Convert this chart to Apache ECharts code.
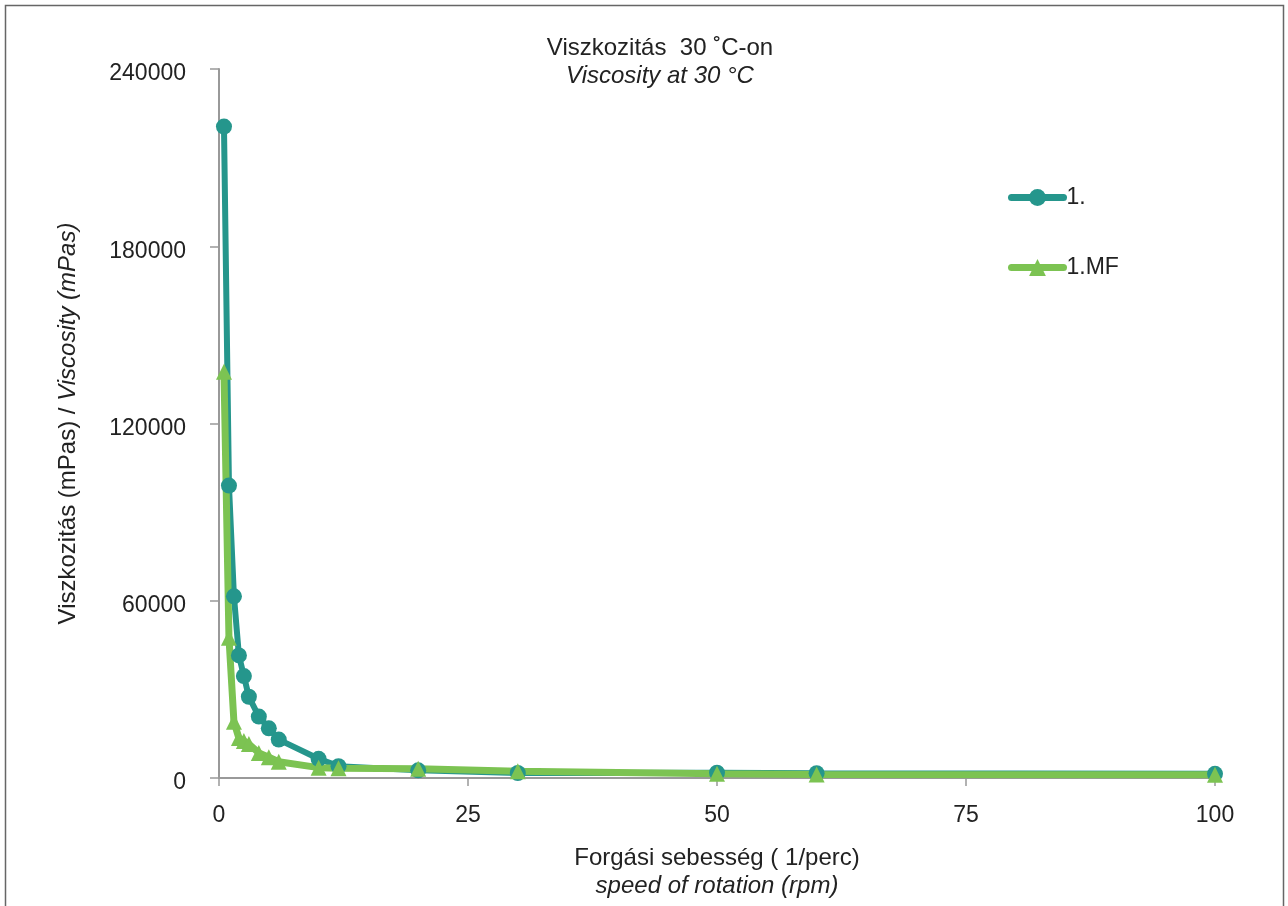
<!DOCTYPE html>
<html><head><meta charset="utf-8">
<script src="https://cdn.jsdelivr.net/npm/echarts@6/dist/echarts.min.js"></script>
<style>html,body{margin:0;padding:0;background:#fff}#c{width:1288px;height:906px}</style>
</head><body><div id="c"></div>
<script>
const speeds = [0.5, 1, 1.5, 2, 2.5, 3, 4, 5, 6, 10, 12, 20, 30, 50, 60, 100];
const series1 = [220500, 99000, 61500, 41500, 34500, 27500, 20800, 16800, 13000, 6500, 4000, 2600, 1700, 1800, 1600, 1400];
const series1MF = [137500, 47500, 19000, 13500, 12500, 11500, 8500, 7000, 5500, 3500, 3300, 3100, 2300, 1400, 1200, 1100];
const xTicks = [0, 25, 50, 75, 100];
const yTicks = [0, 60000, 120000, 180000, 240000];
const names = ['1.', '1.MF'];

const font = 'Liberation Sans, Arial, sans-serif';
const FS = 24, FL = 23;
const TEAL = '#25968C', GREEN = '#7CC352';
const legendCommon = {
  orient: 'vertical', left: 1008, itemWidth: 52, itemHeight: 21, padding: 0,
  textStyle: {fontFamily: font, fontSize: FL, color: '#222', padding: [0,0,0,-2]}
};
const chart = echarts.init(document.getElementById('c'));
chart.setOption({
  backgroundColor: '#fff',
  animation: false,
  graphic: [{type:'rect', shape:{x:5.5,y:5.5,width:1278,height:920}, style:{fill:'none',stroke:'#666',lineWidth:1.5}}],
  title: {
    text: 'Viszkozitás  30 ˚C-on\n{i|Viscosity at 30 °C}',
    left: 655, top: 29, textAlign: 'center',
    textStyle: {fontFamily: font, fontSize: FS, fontWeight: 'normal', color: '#222', lineHeight: 28,
      rich: {i: {fontStyle: 'italic', fontFamily: font, fontSize: FS, color: '#222'}}}
  },
  legend: [
    Object.assign({}, legendCommon, {top: 186, data: [{name: names[0], lineStyle: {width: 7, cap: 'round'}}]}),
    Object.assign({}, legendCommon, {top: 256, data: [{name: names[1], lineStyle: {width: 7, cap: 'round'}}]})
  ],
  grid: {left: 219, right: 73, top: 69, bottom: 128},
  xAxis: {
    type: 'value', min: 0, max: 100, interval: 25,
    name: 'Forgási sebesség ( 1/perc)\n{i|speed of rotation (rpm)}',
    nameLocation: 'middle', nameGap: 66,
    nameTextStyle: {fontFamily: font, fontSize: FS, color: '#222', lineHeight: 28,
      rich: {i: {fontStyle: 'italic', fontFamily: font, fontSize: FS, color: '#222'}}},
    axisLine: {lineStyle: {color: '#999', width: 2}},
    axisTick: {show: true, length: 8, lineStyle: {color: '#999', width: 1.5}},
    axisLabel: {fontFamily: font, fontSize: FL, color: '#222', margin: 26,
      formatter: v => xTicks.includes(v) ? String(v) : ''},
    splitLine: {show: false}
  },
  yAxis: {
    type: 'value', min: 0, max: 240000, interval: 60000,
    name: 'Viszkozitás (mPas) / {i|Viscosity (mPas)}',
    nameLocation: 'middle', nameGap: 139, nameRotate: 90,
    nameTextStyle: {fontFamily: font, fontSize: FS, color: '#222',
      rich: {i: {fontStyle: 'italic', fontFamily: font, fontSize: FS, color: '#222'}}},
    axisLine: {show: true, lineStyle: {color: '#999', width: 2}},
    axisTick: {show: true, length: 9, lineStyle: {color: '#999', width: 1.5}},
    axisLabel: {fontFamily: font, fontSize: FL, color: '#222', margin: 33,
      verticalAlign: 'top', lineHeight: 10,
      formatter: v => yTicks.includes(v) ? String(v) : ''},
    splitLine: {show: false}
  },
  series: [
    {name: names[0], type: 'line', data: speeds.map((x,i)=>[x, series1[i]]),
     symbol: 'circle', symbolSize: 16, color: TEAL,
     lineStyle: {width: 6, color: TEAL}, itemStyle: {color: TEAL}},
    {name: names[1], type: 'line', data: speeds.map((x,i)=>[x, series1MF[i]]),
     symbol: 'triangle', symbolSize: 16, color: GREEN,
     lineStyle: {width: 7, color: GREEN}, itemStyle: {color: GREEN}}
  ]
});
</script></body></html>
